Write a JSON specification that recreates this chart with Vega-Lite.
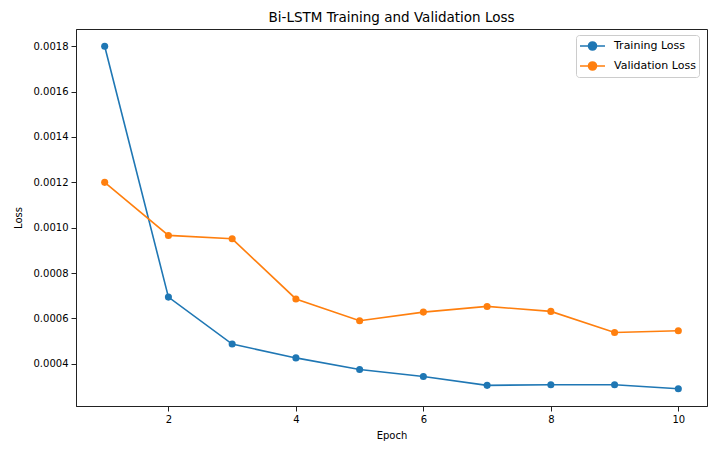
{
  "$schema": "https://vega.github.io/schema/vega-lite/v6.json",
  "autosize": {"type": "none"},
  "padding": {"left": 76, "top": 29, "right": 3, "bottom": 44},
  "width": 631,
  "height": 377,
  "background": "white",
  "title": {"text": "Bi-LSTM Training and Validation Loss", "font": "DejaVu Sans", "fontSize": 13.5, "fontWeight": "normal", "color": "#000", "offset": 5, "anchor": "middle"},
  "data": {"values": [
    {"epoch": 1, "loss": 0.00180, "series": "Training Loss"},
    {"epoch": 2, "loss": 0.000694, "series": "Training Loss"},
    {"epoch": 3, "loss": 0.000487, "series": "Training Loss"},
    {"epoch": 4, "loss": 0.000426, "series": "Training Loss"},
    {"epoch": 5, "loss": 0.000375, "series": "Training Loss"},
    {"epoch": 6, "loss": 0.000344, "series": "Training Loss"},
    {"epoch": 7, "loss": 0.000305, "series": "Training Loss"},
    {"epoch": 8, "loss": 0.000308, "series": "Training Loss"},
    {"epoch": 9, "loss": 0.000308, "series": "Training Loss"},
    {"epoch": 10, "loss": 0.000290, "series": "Training Loss"},
    {"epoch": 1, "loss": 0.00120, "series": "Validation Loss"},
    {"epoch": 2, "loss": 0.000966, "series": "Validation Loss"},
    {"epoch": 3, "loss": 0.000951, "series": "Validation Loss"},
    {"epoch": 4, "loss": 0.000686, "series": "Validation Loss"},
    {"epoch": 5, "loss": 0.000590, "series": "Validation Loss"},
    {"epoch": 6, "loss": 0.000628, "series": "Validation Loss"},
    {"epoch": 7, "loss": 0.000653, "series": "Validation Loss"},
    {"epoch": 8, "loss": 0.000631, "series": "Validation Loss"},
    {"epoch": 9, "loss": 0.000538, "series": "Validation Loss"},
    {"epoch": 10, "loss": 0.000546, "series": "Validation Loss"}
  ]},
  "mark": {"type": "line", "strokeWidth": 1.6, "point": {"filled": true, "size": 50, "opacity": 1}},
  "encoding": {
    "x": {"field": "epoch", "type": "quantitative", "title": "Epoch",
          "scale": {"domain": [0.55, 10.45], "nice": false, "zero": false},
          "axis": {"values": [2, 4, 6, 8, 10], "format": "d", "titlePadding": 6}},
    "y": {"field": "loss", "type": "quantitative", "title": "Loss",
          "scale": {"domain": [0.000214, 0.001876], "nice": false, "zero": false},
          "axis": {"values": [0.0004, 0.0006, 0.0008, 0.0010, 0.0012, 0.0014, 0.0016, 0.0018], "format": ".4f", "titlePadding": 10}},
    "color": {"field": "series", "type": "nominal",
              "scale": {"domain": ["Training Loss", "Validation Loss"], "range": ["#1f77b4", "#ff7f0e"]},
              "legend": {"title": null, "orient": "none", "legendX": 500, "legendY": 6,
                         "symbolType": "M-1,0H2.571M0.215,0A0.571,0.571 0 1,1 1.357,0A0.571,0.571 0 1,1 0.215,0Z",
                         "symbolSize": 196, "symbolStrokeWidth": 1.6,
                         "labelFont": "DejaVu Sans", "labelFontSize": 11, "labelColor": "#000",
                         "fillColor": "white", "strokeColor": "#cccccc", "cornerRadius": 3,
                         "padding": 3, "rowPadding": 4, "labelOffset": 19}}
  },
  "config": {
    "view": {"stroke": "#222", "strokeWidth": 1},
    "axis": {"grid": false, "domainColor": "#222", "tickColor": "#222", "tickSize": 5, "labelPadding": 3,
             "labelFont": "DejaVu Sans", "labelFontSize": 10, "labelColor": "#000",
             "titleFont": "DejaVu Sans", "titleFontSize": 10, "titleFontWeight": "normal", "titleColor": "#000"}
  }
}
